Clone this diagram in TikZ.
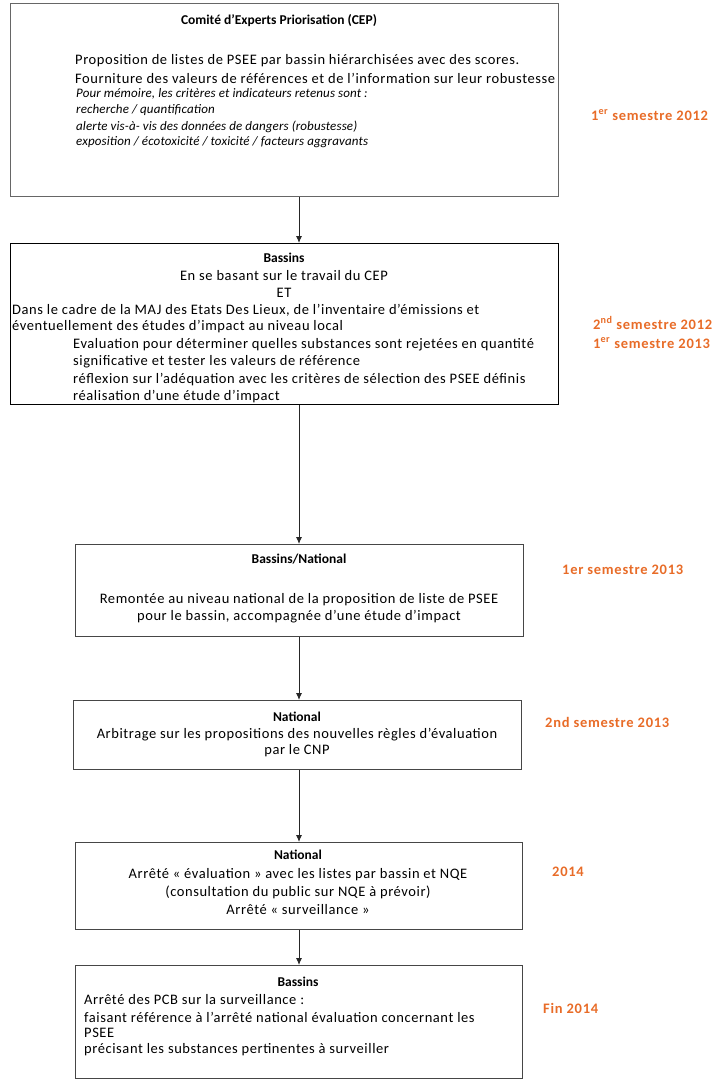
\documentclass[tikz,border=0pt]{standalone}
\usepackage{fontspec}
\setmainfont{Carlito}
\usetikzlibrary{arrows.meta}
\definecolor{dateorange}{RGB}{232,108,40}
\definecolor{boxline}{RGB}{70,70,70}
\newfontfamily\bodyfont[LetterSpace=4]{Carlito}
\newfontfamily\datefont[LetterSpace=5]{Carlito}
\newfontfamily\itfont[LetterSpace=1]{Carlito}
\begin{document}
\begin{tikzpicture}[x=1pt,y=-1pt,
  box/.style={draw=boxline,line width=1.3pt,inner sep=0pt,anchor=north west},
  txt/.style={inner sep=0pt,font=\bodyfont\fontsize{14.5}{17}\selectfont},
  lft/.style={txt,anchor=west},
  ttl/.style={inner sep=0pt,font=\fontsize{13.5}{17}\selectfont\bfseries},
  itl/.style={inner sep=0pt,anchor=west,font=\itfont\fontsize{13}{15}\selectfont\itshape},
  date/.style={inner sep=0pt,anchor=west,text=dateorange,font=\datefont\fontsize{14.5}{17}\selectfont\bfseries},
  arr/.style={draw=black!85,line width=0.9pt,-{Latex[length=7pt,width=6pt]}}]
\useasboundingbox (0,0) rectangle (724,1089);
% boxes
\node[box,draw=black!60,minimum width=548pt,minimum height=193pt] (b1) at (10,3) {};
\node[box,draw=black,minimum width=548pt,minimum height=161pt] (b2) at (10,243) {};
\node[box,minimum width=448pt,minimum height=92pt] (b3) at (75,544) {};
\node[box,minimum width=448pt,minimum height=69pt] (b4) at (73,700) {};
\node[box,minimum width=447pt,minimum height=87pt] (b5) at (75,842) {};
\node[box,minimum width=447pt,minimum height=113pt] (b6) at (75,965) {};
% arrows
\coordinate (ax) at (299,0);
\draw[arr] (b1.south -| ax) -- (b2.north -| ax);
\draw[arr] (b2.south -| ax) -- (b3.north -| ax);
\draw[arr] (b3.south -| ax) -- (b4.north -| ax);
\draw[arr] (b4.south -| ax) -- (b5.north -| ax);
\draw[arr] (b5.south -| ax) -- (b6.north -| ax);
% box 1
\node[ttl] (t1) at (279,21) {Comité d’Experts Priorisation (CEP)};
\node[lft] (t1a) at (75,61) {Proposition de listes de PSEE par bassin hiérarchisées avec des scores.};
\node[lft] (t1b) at (75,78) {Fourniture des valeurs de références et de l’information sur leur robustesse};
\node[itl] (t1c) at (76,94) {Pour mémoire, les critères et indicateurs retenus sont :};
\node[itl] (t1d) at (76,110) {recherche / quantification};
\node[itl] (t1e) at (76,127) {alerte vis-à- vis des données de dangers (robustesse)};
\node[itl] (t1f) at (76,142) {exposition / écotoxicité / toxicité / facteurs aggravants};
% box 2
\node[ttl] (t2) at (284,258) {Bassins};
\node[txt] (t2a) at (284,276) {En se basant sur le travail du CEP};
\node[txt] (t2b) at (284,293) {ET};
\node[lft] (t2c) at (12,310) {Dans le cadre de la MAJ des Etats Des Lieux, de l’inventaire d’émissions et};
\node[lft] (t2d) at (12,327) {éventuellement des études d’impact au niveau local};
\node[lft] (t2e) at (73,345) {Evaluation pour déterminer quelles substances sont rejetées en quantité};
\node[lft] (t2f) at (73,362) {significative et tester les valeurs de référence};
\node[lft] (t2g) at (73,380) {réflexion sur l’adéquation avec les critères de sélection des PSEE définis};
\node[lft] (t2h) at (73,397) {réalisation d’une étude d’impact};
% box 3
\node[ttl] (t3) at (299,559) {Bassins/National};
\node[txt] (t3a) at (299,600) {Remontée au niveau national de la proposition de liste de PSEE};
\node[txt] (t3b) at (299,617) {pour le bassin, accompagnée d’une étude d’impact};
% box 4
\node[ttl] (t4) at (297,717) {National};
\node[txt] (t4a) at (297,735) {Arbitrage sur les propositions des nouvelles règles d’évaluation};
\node[txt] (t4b) at (297,751) {par le CNP};
% box 5
\node[ttl] (t5) at (298,855) {National};
\node[txt] (t5a) at (298,875) {Arrêté « évaluation » avec les listes par bassin et NQE};
\node[txt] (t5b) at (298,892) {(consultation du public sur NQE à prévoir)};
\node[txt] (t5c) at (298,910) {Arrêté « surveillance »};
% box 6
\node[ttl] (t6) at (298,982) {Bassins};
\node[lft] (t6a) at (84,1000) {Arrêté des PCB sur la surveillance :};
\node[lft] (t6b) at (84,1017) {faisant référence à l’arrêté national évaluation concernant les};
\node[lft] (t6c) at (84,1033) {PSEE};
\node[lft] (t6d) at (84,1050) {précisant les substances pertinentes à surveiller};
% dates
\node[date] (d1) at (591,115) {1\textsuperscript{er} semestre 2012};
\node[date] (d2) at (593,323) {2\textsuperscript{nd} semestre 2012};
\node[date] (d3) at (593,343) {1\textsuperscript{er} semestre 2013};
\node[date] (d4) at (562,570) {1er semestre 2013};
\node[date] (d5) at (545,722) {2nd semestre 2013};
\node[date] (d6) at (552,872) {2014};
\node[date] (d7) at (543,1008) {Fin 2014};
\end{tikzpicture}
\end{document}
